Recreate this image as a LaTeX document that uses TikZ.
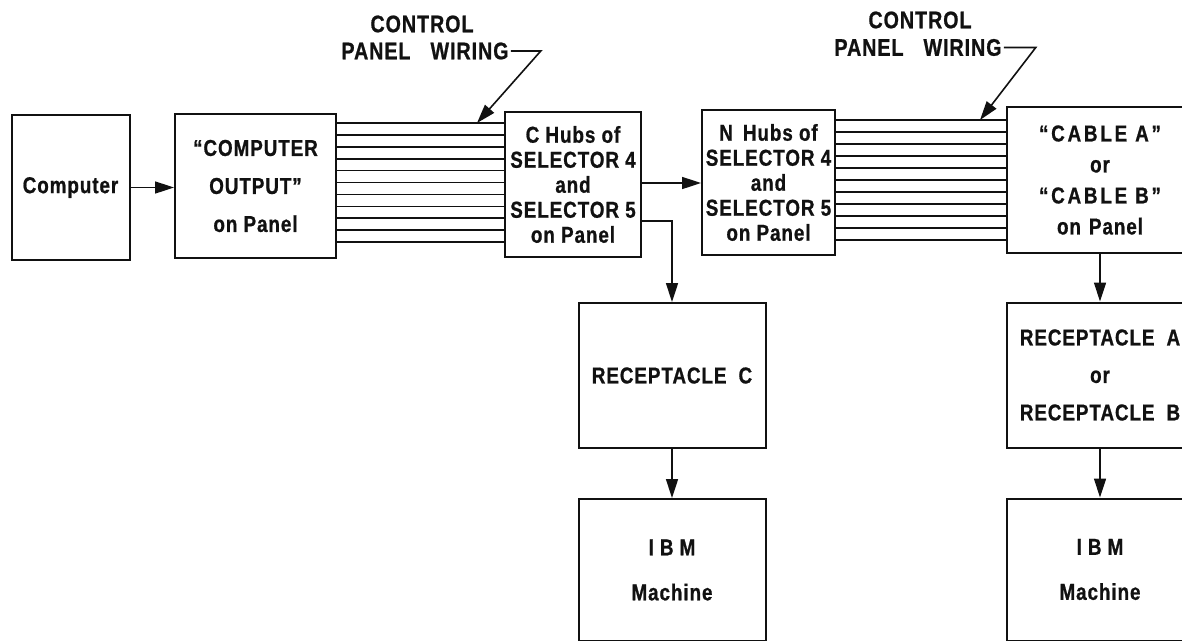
\documentclass[tikz,border=0pt]{standalone}
\usepackage{fontspec}
\setmainfont[FakeStretch=0.82,LetterSpace=4,BoldFeatures={FakeBold=0.8}]{Liberation Sans}
\usetikzlibrary{arrows.meta,positioning}
\definecolor{ink}{HTML}{111111}
\tikzset{
  blk/.style={draw=ink,line width=2pt,inner sep=0pt,align=center,text=ink,font=\bfseries\fontsize{23}{25}\selectfont},
  blkw/.style={blk,minimum width=187pt,minimum height=145pt},
  lbl/.style={inner sep=0pt,text=ink,font=\bfseries\fontsize{24}{27}\selectfont},
  wire/.style={draw=ink,line width=1.6pt},
  ar/.style={-{Triangle[length=19pt,width=12pt]},draw=ink,line width=1.6pt},
}

\begin{document}
\begin{tikzpicture}[x=1pt,y=-1pt]
  \useasboundingbox (0,0) rectangle (1182,640);
  \clip (0,0) rectangle (1182,640);
  % top row
  \node[blk,minimum width=118pt,minimum height=145pt] (comp) at (70.5,187.5) {Computer};
  \node[blk,minimum width=161pt,minimum height=144pt,font=\bfseries\fontsize{23}{38}\selectfont] (cop) at (255.5,186) {``COMPUTER\\ OUTPUT''\\on Panel};
  \node[blk,minimum width=136pt,minimum height=145pt] (chub) at (573,184.5) {C Hubs of\\SELECTOR 4\\and\\SELECTOR 5\\on Panel};
  \node[blk,minimum width=133pt,minimum height=145pt] (nhub) at (768.5,182.5) {N\hspace{10pt}Hubs of\\SELECTOR 4\\and\\SELECTOR 5\\on Panel};
  \node[blk,minimum width=186pt,minimum height=146pt,font=\bfseries\fontsize{23}{31}\selectfont] (cable) at (1100,180)
    {{\addfontfeature{LetterSpace=12}``CABLE A''}\\or\\{\addfontfeature{LetterSpace=12}``CABLE B''}\\on\hspace{8pt}Panel};
  % wiring
  \foreach \i in {0,...,10} {
    \pgfmathsetmacro\wy{123+11.9*\i}
    \draw[wire] (cop.east |- 0,\wy) -- (chub.west |- 0,\wy);
    \pgfmathsetmacro\wy{120+12*\i}
    \draw[wire] (nhub.east |- 0,\wy) -- (cable.west |- 0,\wy);
  }
  \node[lbl] (ctl1) at (422,24) {CONTROL};
  \node[lbl] (pnl1) at (425,51) {PANEL\hspace{20pt}WIRING};
  \coordinate (tip1) at (477,123);
  \draw[ar] ([xshift=2pt]pnl1.east) -- ++(30,0) -- (tip1);
  \node[lbl] (ctl2) at (920,20) {CONTROL};
  \node[lbl] (pnl2) at (918,47.5) {PANEL\hspace{20pt}WIRING};
  \coordinate (tip2) at (980,120);
  \draw[ar] ([xshift=2pt]pnl2.east) -- ++(32,0) -- (tip2);
  % receptacles and machines
  \node[blkw] (recc) at (672,375.5) {RECEPTACLE\hspace{12pt}C};
  \node[blkw,minimum height=142pt,below=49pt of recc,font=\bfseries\fontsize{23}{45}\selectfont] (ibmc) {I\hspace{6pt}B\hspace{6pt}M\\Machine};
  \node[blkw,font=\bfseries\fontsize{23}{37.5}\selectfont] (reca) at (1100,375) {RECEPTACLE\hspace{12pt}A\\or\\RECEPTACLE\hspace{12pt}B};
  \node[blkw,minimum height=142pt,below=49pt of reca,font=\bfseries\fontsize{23}{45}\selectfont] (ibma) {I\hspace{6pt}B\hspace{6pt}M\\Machine};
  % connectors
  \draw[ar] (comp.east) -- (cop.west |- comp.east);
  \draw[ar] (chub.east |- 0,183) -- (nhub.west |- 0,183);
  \draw[ar] (chub.east |- 0,221) -| (recc.north);
  \draw[ar] (recc) -- (ibmc);
  \draw[ar] (cable) -- (reca);
  \draw[ar] (reca) -- (ibma);
\end{tikzpicture}
\end{document}
